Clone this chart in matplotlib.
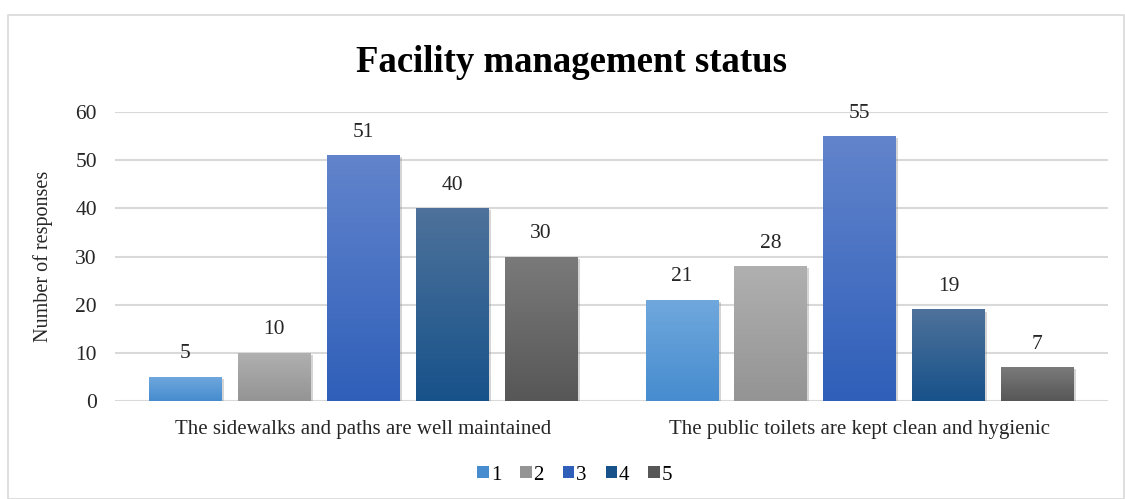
import numpy as np
import matplotlib
matplotlib.use('Agg')
from matplotlib import pyplot as plt
from matplotlib.patches import Patch, Rectangle
from matplotlib import patheffects as pe
from matplotlib.colors import LinearSegmentedColormap

categories = ['The sidewalks and paths are well maintained',
              'The public toilets are kept clean and hygienic']
series_names = ['1', '2', '3', '4', '5']
values = [[5, 21],
          [10, 28],
          [51, 55],
          [40, 19],
          [30, 7]]
# top / bottom colours of the gradient for each series
top_colors = ['#70a8dd', '#b0b0b0', '#6284cc', '#4e729b', '#7a7a7a']
bottom_colors = ['#468ccf', '#949494', '#2f5fb9', '#17528a', '#575757']

plt.rcParams['font.family'] = ['Liberation Serif', 'DejaVu Serif']

fig = plt.figure(figsize=(11.25, 4.99), dpi=100)
ax = fig.add_axes([115 / 1125, 1 - 401 / 499, (1108 - 115) / 1125, (401 - 112) / 499])

# light frame round the chart
fig.patches.append(Rectangle((8 / 1125, 0), 1 - 8 / 1125 - 0.001, 1 - 15 / 499, transform=fig.transFigure,
                             fill=False, ec='#d9d9d9', lw=1.2))

x = np.arange(len(categories))
step = 0.179
width = 0.147
shadow = [pe.SimplePatchShadow(offset=(1.5, -1.5), shadow_rgbFace='#888888', alpha=0.35), pe.Normal()]

for i, name in enumerate(series_names):
    cmap = LinearSegmentedColormap.from_list('g%d' % i, [bottom_colors[i], top_colors[i]])
    grad = np.linspace(0, 1, 256).reshape(-1, 1)
    bars = ax.bar(x + (i - 2) * step, values[i], width, color=bottom_colors[i], zorder=2)
    for b, v in zip(bars, values[i]):
        b.set_path_effects(shadow)
        im = ax.imshow(grad, cmap=cmap, origin='lower', aspect='auto', zorder=3,
                       extent=[b.get_x(), b.get_x() + b.get_width(), 0, v])
        im.set_clip_path(b)
        ax.text(b.get_x() + b.get_width() / 2, v + 2.8, str(v), ha='center', va='bottom',
                fontsize=15.5, color='#262626', zorder=4)

ax.set_xlim(-0.5, 1.5)
ax.set_ylim(0, 60)
ax.set_yticks(np.arange(0, 61, 10))
ax.set_xticks(x)
ax.set_xticklabels(categories, fontsize=15, color='#262626')
ax.tick_params(axis='y', labelsize=15.5, colors='#262626', length=0, pad=13)
ax.tick_params(axis='x', length=0, pad=14)
ax.yaxis.grid(True, color='#d9d9d9', lw=1.5, zorder=0)
ax.set_axisbelow(True)
for s in ax.spines.values():
    s.set_visible(False)

ax.set_ylabel('Number of responses', fontsize=14.5, color='#262626', labelpad=16)
fig.text(0.508, 1 - 62 / 499, 'Facility management status', ha='center', va='center',
         fontsize=26.5, fontweight='bold', color='black')

handles = [Patch(facecolor=c, edgecolor='none') for c in bottom_colors]
fig.legend(handles, series_names, loc='center', bbox_to_anchor=(0.511, 1 - 475 / 499), ncol=5,
           frameon=False, fontsize=15, handlelength=0.55, handleheight=0.55, handletextpad=0.1,
           columnspacing=0.9)

fig.savefig('out.png', dpi=100)
